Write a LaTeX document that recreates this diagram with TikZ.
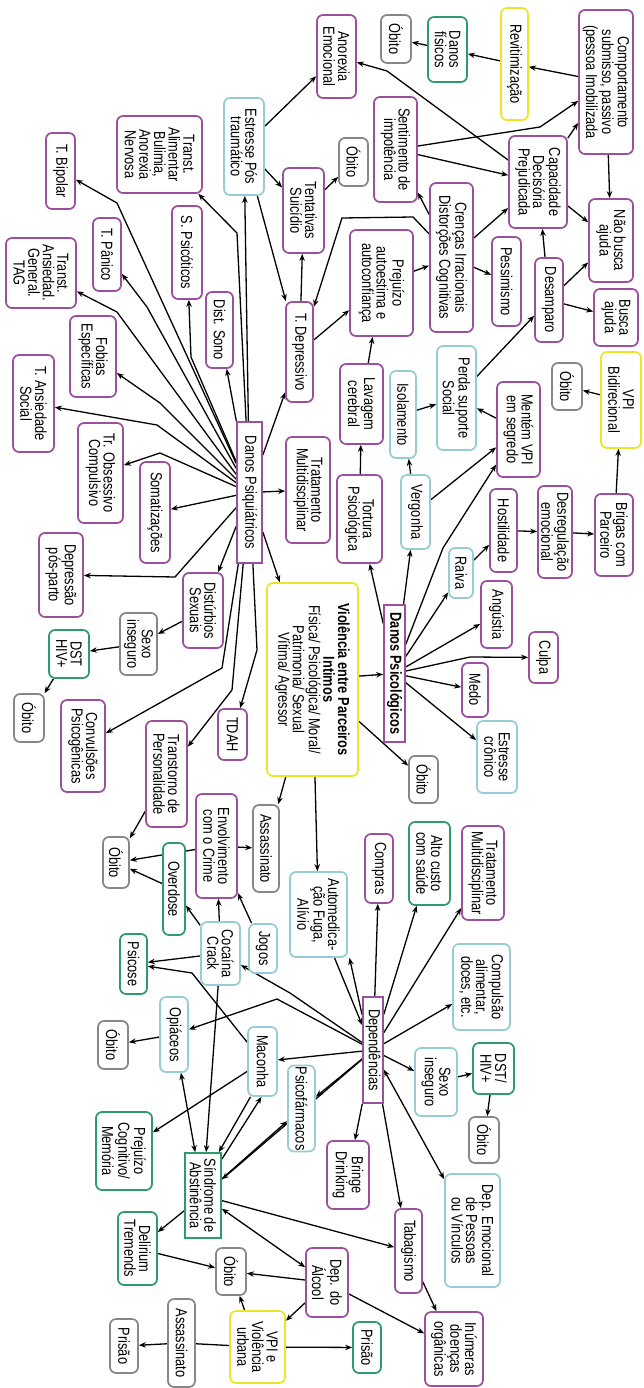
\documentclass[tikz,border=0pt]{standalone}
\usepackage{fontspec}
\newfontfamily\fs{Liberation Sans}[FakeStretch=0.8]
\usetikzlibrary{arrows.meta,calc}
\pgfdeclarelayer{bg}
\pgfsetlayers{bg,main}
\definecolor{cpur}{RGB}{156,79,158}
\definecolor{ctea}{RGB}{150,205,212}
\definecolor{cgrn}{RGB}{46,155,106}
\definecolor{cgry}{RGB}{135,135,135}
\definecolor{cyel}{RGB}{236,230,40}
\newcommand\mynd[7]{\node[#6, minimum width=#5pt, minimum height=#4pt] (#1) at (#2,#3) {#7};}
\tikzset{
 bx/.style={rotate=-90, draw, fill=white, line width=1.7pt, rounded corners=6pt, align=center, inner sep=1pt, font=\fs\fontsize{16}{14.6}\selectfont},
 pur/.style={bx, draw=cpur},
 tea/.style={bx, draw=ctea},
 grn/.style={bx, draw=cgrn},
 gry/.style={bx, draw=cgry},
 yel/.style={bx, draw=cyel},
 prct/.style={bx, draw=cpur, rounded corners=0pt},
 grct/.style={bx, draw=cgrn, rounded corners=0pt},
 arr/.style={-{Stealth[length=7pt,width=5.5pt]}, line width=1.3pt, black},
 darr/.style={{Stealth[length=7pt,width=5.5pt]}-{Stealth[length=7pt,width=5.5pt]}, line width=1.3pt, black},
 ln/.style={line width=1.3pt, black}
}
\begin{document}
\begin{tikzpicture}[x=1pt,y=-1pt]
\useasboundingbox (0,0) rectangle (643,1388);
\begin{pgfonlayer}{bg}\fill[white] (0,0) rectangle (643,1388);\end{pgfonlayer}
% ---------- nodes ----------
\mynd{anorexia}{336.5}{56.5}{39}{83}{pur}{Anorexia\\Emocional}
\mynd{obitoa}{396}{39}{30}{48}{gry}{Óbito}
\mynd{danosfis}{447.5}{49.5}{39}{65}{grn}{Danos\\físicos}
\mynd{revit}{514.5}{64}{27}{112}{yel}{Revitimização}
\mynd{comport}{606}{82}{54}{144}{pur}{Comportamento\\submisso, passivo\\(pessoa Imobilizada}
\mynd{sentim}{395.5}{149.5}{43}{105}{pur}{Sentimento de\\impotência}
\mynd{obitob}{353.5}{162}{29}{48}{gry}{Óbito}
\mynd{capac}{538}{182}{58}{92}{pur}{Capacidade\\Decisória\\Prejudicada}
\mynd{naobusca}{611}{240.5}{44}{83}{pur}{Não busca\\ajuda}
\mynd{crencas}{451.5}{257.5}{43}{149}{pur}{Crenças Irracionais\\Distorções Cognitivas}
\mynd{estresse}{244}{146.5}{40}{97}{tea}{Estresse Pós\\traumático}
\mynd{tentat}{303.5}{210.5}{41}{85}{pur}{Tentativas\\Suicídio}
\mynd{aliment}{159.5}{154.5}{85}{77}{pur}{Transt.\\Alimentar\\Bulimia,\\Anorexia\\Nervosa}
\mynd{bipolar}{60.5}{171}{29}{76}{pur}{T. Bipolar}
\mynd{psicot}{187}{252.5}{30}{93}{pur}{S. Psicóticos}
\mynd{panico}{107}{254.5}{28}{73}{pur}{T. Pânico}
\mynd{tag}{41}{273}{70}{70}{pur}{Transt.\\Ansiedad.\\General.\\TAG}
\mynd{prejuizo}{381.5}{283}{63}{106}{pur}{Prejuízo\\autoestima e\\autoconfiança}
\mynd{pessim}{506.5}{281.5}{29}{89}{pur}{Pessimismo}
\mynd{desamp}{549}{300}{28}{84}{pur}{Desamparo}
\mynd{busca}{616}{317.5}{44}{57}{pur}{Busca\\ajuda}
\mynd{perda}{456.5}{398}{39}{104}{tea}{Perda suporte\\Social}
\mynd{isol}{403}{414.5}{26}{87}{tea}{Isolamento}
\mynd{lavagem}{361.5}{404}{43}{80}{pur}{Lavagem\\cerebral}
\mynd{mentem}{518.5}{429.5}{43}{95}{pur}{Mentém VPI\\em segredo}
\mynd{vpibi}{621}{400}{40}{96}{yel}{VPI\\Bidirecional}
\mynd{obitoc}{567}{386.5}{30}{47}{gry}{Óbito}
\mynd{tdep}{299.5}{352}{27}{100}{pur}{T. Depressivo}
\mynd{tratpsi}{308}{490}{44}{106}{pur}{Tratamento\\Multidisciplinar}
\mynd{distsono}{219.5}{330}{27}{76}{pur}{Dist. Sono}
\mynd{fobias}{93}{356.5}{46}{81}{pur}{Fobias\\Específicas}
\mynd{ansoc}{33.5}{403.5}{41}{97}{pur}{T. Ansiedade\\Social}
\mynd{toc}{100.5}{473}{45}{100}{pur}{Tr. Obsessivo\\Compulsivo}
\mynd{dp}{249.5}{492.5}{25}{141}{prct}{Danos Psiquiátricos}
\mynd{somat}{155}{512.5}{30}{101}{pur}{Somatizações}
\mynd{deppos}{61}{575}{44}{84}{pur}{Depressão\\pós-parto}
\mynd{distsex}{203}{610.5}{40}{75}{pur}{Distúrbios\\Sexuais}
\mynd{sexoa}{138.5}{644}{37}{62}{gry}{Sexo\\inseguro}
\mynd{dsta}{69}{654}{40}{48}{grn}{DST\\HIV+}
\mynd{obitod}{29}{718}{30}{48}{gry}{Óbito}
\mynd{viol}{312.5}{679.5}{91}{193}{yel}{\textbf{Violência entre Parceiros}\\\textbf{Intimos}\\Física/ Psicológica/ Moral/\\Patrimonia/ Sexual\\Vítima/ Agressor}
\mynd{tortura}{359.5}{519}{45}{88}{pur}{Tortura\\Psicológica}
\mynd{vergonha}{415.5}{512}{29}{74}{tea}{Vergonha}
\mynd{hostil}{503.5}{530.5}{27}{83}{pur}{Hostilidade}
\mynd{desreg}{555}{532}{34}{92}{pur}{Desregulação\\emocional}
\mynd{brigas}{614}{535}{38}{82}{pur}{Brigas com\\Parceiro}
\mynd{raiva}{461}{573}{24}{50}{tea}{Raiva}
\mynd{angust}{496.5}{614.5}{31}{67}{pur}{Angústia}
\mynd{culpa}{543.5}{657.5}{29}{51}{pur}{Culpa}
\mynd{dps}{394.5}{673.5}{21}{137}{prct}{\textbf{Danos Psicológicos}}
\mynd{medo}{475}{690}{26}{54}{pur}{Medo}
\mynd{estcron}{497}{757}{40}{72}{tea}{Estresse\\crônico}
\mynd{obitoe}{423.5}{779.5}{29}{47}{gry}{Óbito}
\mynd{altoc}{429.5}{863.5}{41}{83}{grn}{Alto custo\\com saúde}
\mynd{tratdep}{483}{873}{42}{94}{pur}{Tratamento\\Multidisciplinar}
\mynd{compras}{379}{868.5}{28}{69}{pur}{Compras}
\mynd{automed}{318.5}{914.5}{57}{85}{tea}{Automedica-\\ção Fuga,\\Alívio}
\mynd{convul}{83}{746}{44}{92}{pur}{Convulsões\\Psicogênicas}
\mynd{tdah}{232.5}{734.5}{29}{51}{pur}{TDAH}
\mynd{transp}{166.5}{774}{41}{106}{pur}{Transtorno de\\Personalidade}
\mynd{envolv}{216.5}{846}{41}{104}{pur}{Envolvimento\\com o Crime}
\mynd{assassa}{266}{848.5}{26}{87}{gry}{Assassinato}
\mynd{obitof}{116}{862.5}{26}{51}{gry}{Óbito}
\mynd{overd}{174}{889}{22}{92}{grn}{Overdose}
\mynd{jogos}{263}{948.5}{28}{49}{tea}{Jogos}
\mynd{cocaina}{220.5}{953.5}{39}{63}{tea}{Cocaína\\Crack}
\mynd{psicose}{133.5}{964}{27}{60}{grn}{Psicose}
\mynd{opiac}{174}{1034.5}{28}{75}{tea}{Opiáceos}
\mynd{obitog}{113}{1045}{30}{48}{gry}{Óbito}
\mynd{maconha}{262.5}{1061.5}{29}{69}{tea}{Maconha}
\mynd{psicof}{301.5}{1108.5}{27}{71}{tea}{Psicofármacos}
\mynd{prejcog}{124}{1151}{56}{78}{grn}{Prejuízo\\Cognitivo/\\Memória}
\mynd{sindr}{203}{1195.5}{36}{85}{grct}{Síndrome de\\Abstinência}
\mynd{depend}{373}{1050}{20}{106}{prct}{Dependências}
\mynd{compul}{481.5}{987}{57}{86}{tea}{Compulsão\\alimentar,\\doces, etc.}
\mynd{sexob}{436}{1082}{42}{68}{tea}{Sexo\\inseguro}
\mynd{dstb}{493.5}{1068.5}{41}{51}{grn}{DST/\\HIV+}
\mynd{obitoh}{484}{1140}{30}{46}{gry}{Óbito}
\mynd{binge}{348}{1175}{42}{68}{pur}{Bringe\\Drinking}
\mynd{depemo}{472.5}{1230.5}{55}{113}{tea}{Dep. Emocional\\de Pessoas\\ou Vínculos}
\mynd{tabag}{408.5}{1251}{27}{84}{pur}{Tabagismo}
\mynd{depalc}{327}{1282.5}{42}{69}{pur}{Dep. do\\Álcool}
\mynd{inum}{454}{1349}{58}{74}{pur}{Inúmeras\\doenças\\orgânicas}
\mynd{prisaob}{367}{1347.5}{28}{51}{grn}{Prisão}
\mynd{delir}{137.5}{1248.5}{39}{73}{grn}{Delirium\\Tremends}
\mynd{obitoi}{231}{1271.5}{30}{47}{gry}{Óbito}
\mynd{vpiurb}{257.5}{1347}{55}{72}{yel}{VPI e\\Violência\\urbana}
\mynd{assassb}{181.5}{1343}{27}{88}{gry}{Assassinato}
\mynd{prisaoa}{124}{1346}{28}{54}{gry}{Prisão}
% ---------- connectors ----------
\begin{pgfonlayer}{bg}
\draw[arr] (dp) -- (estresse);
\draw[arr] (dp) -- (237,233) -- (aliment);
\draw[arr] (dp) -- (117,203) -- (bipolar);
\draw[arr] (dp) -- (147,307) -- (panico);
\draw[arr] (dp) -- (117,312) -- (tag);
\draw[arr] (dp) -- (160,403) -- (fobias);
\draw[arr] (dp) -- (157,425) -- (ansoc);
\draw[arr] (dp) -- (160,453) -- (toc);
\draw[arr] (dp) -- (191,357) -- (psicot);
\draw[arr] (dp) -- (distsono);
\draw[arr] (dp) -- (somat);
\draw[arr] (dp) -- (175,577) -- (deppos);
\draw[arr] (dp) -- (distsex);
\draw[arr] (dp) -- (tratpsi);
\draw[arr] (dp) -- (viol);
\draw[arr] (dp) -- (tdep);
\draw[arr] (dp) -- (222,668) -- (convul);
\draw[arr] (dp) -- (232,690) -- (transp);
\draw[arr] (dp) -- (257,650) -- (tdah);
\draw[arr] (distsex) -- (sexoa);
\draw[arr] (sexoa) -- (dsta);
\draw[arr] (dsta) -- (obitod);
\draw[arr] (estresse) -- (tentat);
\draw[arr] (estresse) -- (anorexia);
\draw[arr] (estresse) -- (tdep);
\draw[arr] (tentat) -- (obitob);
\draw[arr] (tdep) -- (tentat);
\draw[arr] (crencas) -- (413,217) -- (342,218) -- (tdep);
\draw[arr] (tdep) -- (prejuizo);
\draw[arr] (prejuizo) -- (crencas);
\draw[arr] (crencas) -- (sentim);
\draw[arr] (crencas) -- (capac);
\draw[arr] (crencas) -- (pessim);
\draw[arr] (sentim) -- (capac);
\draw[arr] (sentim) -- (540,127) -- (comport);
\draw[arr] (capac) -- (comport);
\draw[arr] (capac) -- (387,71) -- (anorexia);
\draw[arr] (capac) -- (naobusca);
\draw[arr] (comport) -- (naobusca);
\draw[arr] (comport) -- (revit);
\draw[arr] (revit) -- (danosfis);
\draw[arr] (danosfis) -- (obitoa);
\draw[arr] (desamp) -- (capac);
\draw[arr] (desamp) -- (naobusca);
\draw[arr] (desamp) -- (busca);
\draw[arr] (perda) -- (desamp);
\draw[arr] (isol) -- (perda);
\draw[arr] (lavagem) -- (prejuizo);
\draw[arr] (mentem) -- (perda);
\draw[arr] (vpibi) -- (obitoc);
\draw[arr] (brigas) -- (vpibi);
\draw[arr] (desreg) -- (brigas);
\draw[arr] (hostil) -- (desreg);
\draw[arr] (raiva) -- (hostil);
\draw[arr] (tortura) -- (lavagem);
\draw[arr] (vergonha) -- (isol);
\draw[arr] (vergonha) -- (mentem);
\draw[arr] (dps) -- (tortura);
\draw[arr] (dps) -- (vergonha);
\draw[arr] (dps) -- (443,548) -- (mentem);
\draw[arr] (dps) -- (raiva);
\draw[arr] (dps) -- (angust);
\draw[arr] (dps) -- (470,657) -- (culpa);
\draw[arr] (dps) -- (medo);
\draw[arr] (dps) -- (estcron);
\draw[arr] (viol) -- (dps);
\draw[arr] (viol) -- (obitoe);
\draw[arr] (viol) -- (automed);
\draw[arr] (viol) -- (assassa);
\draw[arr] (envolv) -- (assassa);
\draw[arr] (envolv) -- (obitof);
\draw[arr] (transp) -- (obitof);
\draw[arr] (overd) -- (obitof);
\draw[arr] (cocaina) -- (overd);
\draw[arr] (cocaina) -- (envolv);
\draw[arr] (jogos) -- (envolv);
\draw[arr] (cocaina) -- (psicose);
\draw[arr] (maconha) -- (192,973) -- (psicose);
\draw[arr] (cocaina) -- (sindr);
\draw[arr] (opiac) -- (obitog);
\draw[darr] (opiac) -- (sindr);
\draw[arr] (maconha) -- (prejcog);
\draw[arr] ($(maconha.east)+(-12,0)$) -- ($(sindr.north west)+(-3,0)$);
\draw[arr] ($(sindr.north west)+(0,7)$) -- ($(maconha.east)+(-1,0)$);
\draw[arr] (depend) -- (290,993) -- (cocaina);
\draw[arr] (depend) -- (277,999) -- (opiac);
\draw[arr] (depend) -- (maconha);
\draw[arr] (depend) -- (psicof);
\draw[arr] (sindr) -- (psicof);
\draw[arr] (depend) -- (sindr);
\draw[arr] ($(automed.east)+(16,0)$) -- ($(depend.south)+(0,-25)$);
\draw[arr] ($(depend.south)+(0,-35)$) -- ($(automed.east)+(31,0)$);
\draw[arr] (depend) -- (compras);
\draw[arr] (depend) -- (altoc);
\draw[arr] (depend) -- (tratdep);
\draw[arr] (depend) -- (compul);
\draw[arr] (depend) -- (sexob);
\draw[arr] (sexob) -- (dstb);
\draw[arr] (dstb) -- (obitoh);
\draw[darr] (depend) -- (depemo);
\draw[arr] (depend) -- (tabag);
\draw[arr] (depend) -- (binge);
\draw[arr] (sindr) -- (tabag);
\draw[arr] (sindr) -- (delir);
\draw[arr] (delir) -- (obitoi);
\draw[arr] (depalc) -- (obitoi);
\draw[darr] (sindr) -- (depalc);
\draw[arr] (depalc) -- (vpiurb);
\draw[arr] (vpiurb) -- (obitoi);
\draw[arr] (vpiurb) -- (prisaob);
\draw[ln] (vpiurb) -- (assassb);
\draw[arr] (assassb) -- (prisaoa);
\draw[arr] (depalc) -- (inum);
\draw[arr] (tabag) -- (inum);
\end{pgfonlayer}
\end{tikzpicture}
\end{document}
